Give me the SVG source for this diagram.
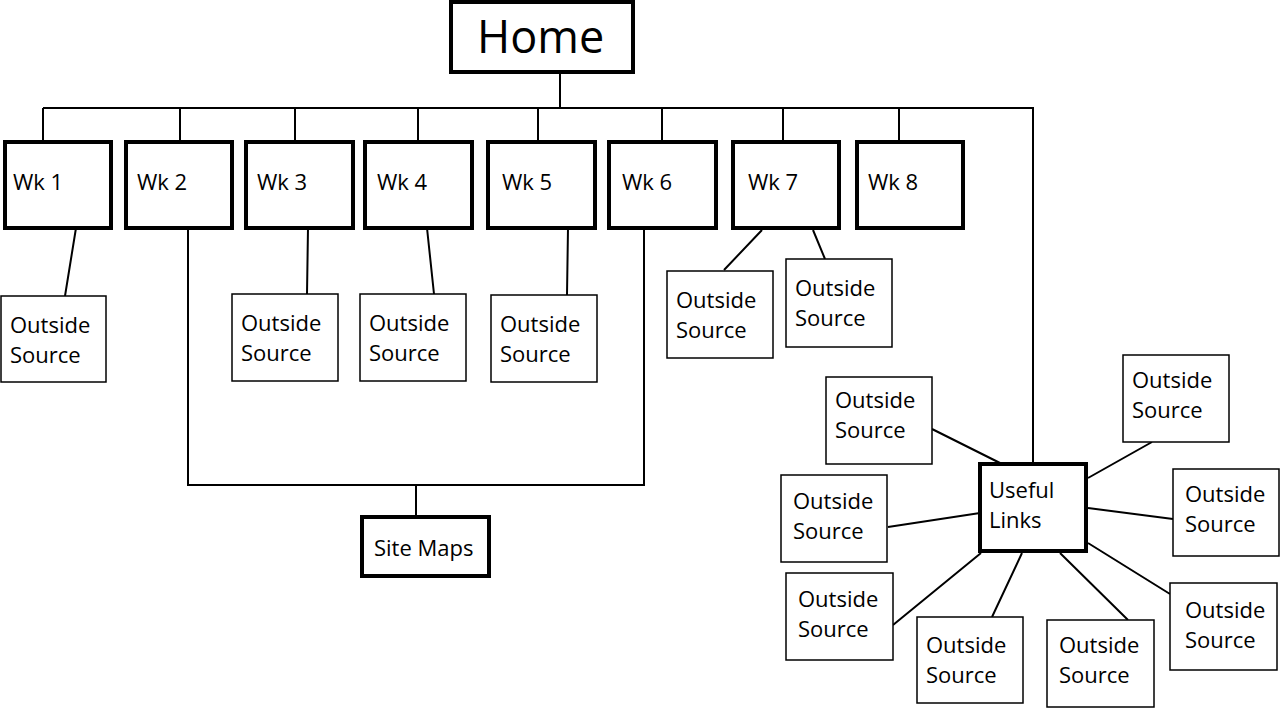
<svg xmlns="http://www.w3.org/2000/svg" width="1280" height="708" viewBox="0 0 1280 708">
<style>
.thick{fill:#fff;stroke:#000;stroke-width:4}
.thin{fill:#fff;stroke:#000;stroke-width:1.5}
.t{font-family:"Open Sans","Liberation Sans",sans-serif;font-size:22px;fill:#000}
.c{fill:none;stroke:#000;stroke-width:2}
</style>
<rect width="1280" height="708" fill="#fff"/>
<g id="connectors" class="c">
<path d="M560 72V108M43 108H1033V464M43 108V142M180 108V142M295 108V142M418 108V142M538 108V142M662 108V142M783 108V142M899 108V142"/>
<path d="M76 228L65 296M308 228L307 294M427 228L434 294M568 228L567 295M762 230L724 270M813 230L825 259"/>
<path d="M188 228V485H644V228M416 485V517"/>
<path d="M932 429L1000 463M1152 442L1088 478M888 527L980 513M1088 508L1173 519M893 625L981 553M992 617L1022 553M1128 620L1060 553M1170 594L1088 543"/>
</g>
<g id="home"><rect class="thick" x="451" y="2" width="182" height="70"/><text class="t" x="477" y="53" style="font-size:45px">Home</text></g>
<g id="wk1"><rect class="thick" x="5" y="142" width="106" height="86"/><text class="t" x="13" y="190">Wk 1</text></g>
<g id="wk2"><rect class="thick" x="126" y="142" width="106" height="86"/><text class="t" x="137" y="190">Wk 2</text></g>
<g id="wk3"><rect class="thick" x="246" y="142" width="107" height="86"/><text class="t" x="257" y="190">Wk 3</text></g>
<g id="wk4"><rect class="thick" x="365" y="142" width="107" height="86"/><text class="t" x="377" y="190">Wk 4</text></g>
<g id="wk5"><rect class="thick" x="488" y="142" width="107" height="86"/><text class="t" x="502" y="190">Wk 5</text></g>
<g id="wk6"><rect class="thick" x="609" y="142" width="107" height="86"/><text class="t" x="622" y="190">Wk 6</text></g>
<g id="wk7"><rect class="thick" x="733" y="142" width="106" height="86"/><text class="t" x="748" y="190">Wk 7</text></g>
<g id="wk8"><rect class="thick" x="857" y="142" width="106" height="86"/><text class="t" x="868" y="190">Wk 8</text></g>
<g id="sitemaps"><rect class="thick" x="362" y="517" width="127" height="59"/><text class="t" x="374" y="556">Site Maps</text></g>
<g id="useful"><rect class="thick" x="980" y="464" width="106" height="87"/><text class="t" x="989" y="498">Useful</text><text class="t" x="989" y="528">Links</text></g>
<g id="os1"><rect class="thin" x="1" y="296" width="105" height="86"/><text class="t" x="10" y="333">Outside</text><text class="t" x="10" y="363">Source</text></g>
<g id="os3"><rect class="thin" x="232" y="294" width="106" height="87"/><text class="t" x="241" y="331">Outside</text><text class="t" x="241" y="361">Source</text></g>
<g id="os4"><rect class="thin" x="360" y="294" width="106" height="87"/><text class="t" x="369" y="331">Outside</text><text class="t" x="369" y="361">Source</text></g>
<g id="os5"><rect class="thin" x="491" y="295" width="106" height="87"/><text class="t" x="500" y="332">Outside</text><text class="t" x="500" y="362">Source</text></g>
<g id="os7a"><rect class="thin" x="667" y="271" width="106" height="87"/><text class="t" x="676" y="308">Outside</text><text class="t" x="676" y="338">Source</text></g>
<g id="os7b"><rect class="thin" x="786" y="259" width="106" height="88"/><text class="t" x="795" y="296">Outside</text><text class="t" x="795" y="326">Source</text></g>
<g id="osA"><rect class="thin" x="826" y="377" width="106" height="87"/><text class="t" x="835" y="408">Outside</text><text class="t" x="835" y="438">Source</text></g>
<g id="osB"><rect class="thin" x="1123" y="355" width="106" height="87"/><text class="t" x="1132" y="388">Outside</text><text class="t" x="1132" y="418">Source</text></g>
<g id="osC"><rect class="thin" x="781" y="475" width="106" height="87"/><text class="t" x="793" y="509">Outside</text><text class="t" x="793" y="539">Source</text></g>
<g id="osD"><rect class="thin" x="1173" y="469" width="106" height="87"/><text class="t" x="1185" y="502">Outside</text><text class="t" x="1185" y="532">Source</text></g>
<g id="osE"><rect class="thin" x="786" y="573" width="107" height="87"/><text class="t" x="798" y="607">Outside</text><text class="t" x="798" y="637">Source</text></g>
<g id="osF"><rect class="thin" x="917" y="617" width="106" height="86"/><text class="t" x="926" y="653">Outside</text><text class="t" x="926" y="683">Source</text></g>
<g id="osG"><rect class="thin" x="1047" y="620" width="107" height="87"/><text class="t" x="1059" y="653">Outside</text><text class="t" x="1059" y="683">Source</text></g>
<g id="osH"><rect class="thin" x="1170" y="583" width="107" height="87"/><text class="t" x="1185" y="618">Outside</text><text class="t" x="1185" y="648">Source</text></g>
</svg>
